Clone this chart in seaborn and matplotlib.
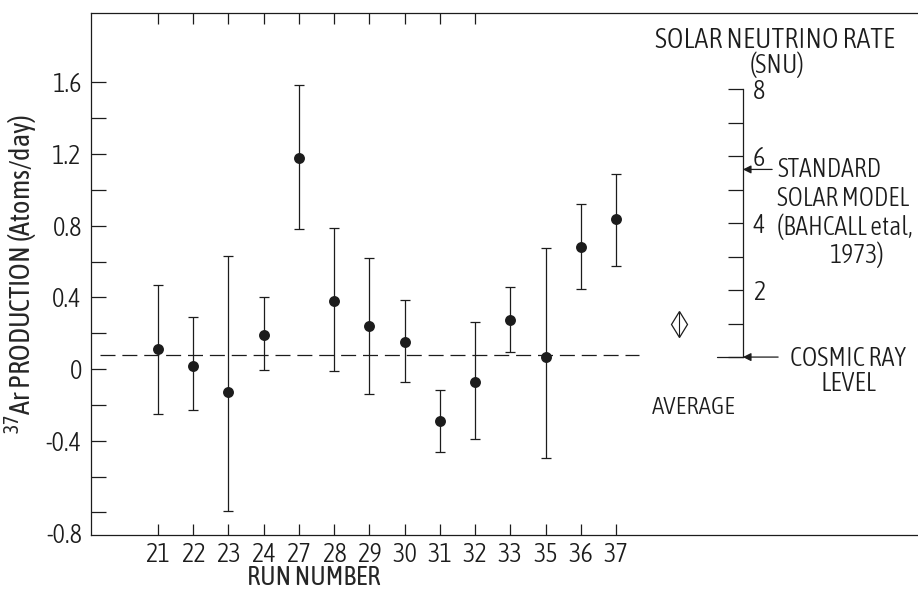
import numpy as np
import pandas as pd
import matplotlib
matplotlib.use("Agg")
import matplotlib.pyplot as plt
import matplotlib.font_manager as fm
import seaborn as sns

# ---- data ----
runs = ["21", "22", "23", "24", "27", "28", "29", "30", "31", "32", "33", "35", "36", "37"]
rate = [0.11, 0.02, -0.13, 0.19, 1.18, 0.38, 0.24, 0.15, -0.29, -0.07, 0.275, 0.07, 0.68, 0.84]
err_hi = [0.47, 0.29, 0.63, 0.405, 1.587, 0.79, 0.62, 0.387, -0.118, 0.26, 0.46, 0.676, 0.919, 1.087]
err_lo = [-0.25, -0.23, -0.79, -0.007, 0.78, -0.01, -0.14, -0.073, -0.46, -0.39, 0.097, -0.497, 0.446, 0.573]
average_rate = 0.25
dashed_level = 0.08
cosmic_ray_level = 0.067          # atoms/day corresponding to 0 SNU
atoms_per_snu = 0.187             # atoms/day per SNU
ssm_snu = 5.6                     # standard solar model (Bahcall et al. 1973)
snu_ticks = [0, 1, 2, 3, 4, 5, 6, 7, 8]
snu_labels = ["", "", "2", "", "4", "", "6", "", "8"]
y_ticks = [-0.8, -0.6, -0.4, -0.2, 0.0, 0.2, 0.4, 0.6, 0.8, 1.0, 1.2, 1.4, 1.6]
y_labels = ["", "", "-0.4", "", "0", "", "0.4", "", "0.8", "", "1.2", "", "1.6"]

INK = "#1c1c1c"


def pick_font():
    entries = fm.fontManager.ttflist
    names = {e.name for e in entries}
    for fam in ["Liberation Sans Narrow"]:
        if fam in names:
            return fam, "normal", "normal", 17.5
    cands = []
    for e in entries:
        s = str(e.stretch).lower()
        tag = (e.name + " " + e.fname).lower()
        if e.style != "normal":
            continue
        if "mono" in tag or "serif" in tag.replace("sans", ""):
            continue
        if s in ("condensed", "semi-condensed") or "condensed" in tag or "narrow" in tag:
            w = e.weight if isinstance(e.weight, int) else 400
            cands.append((abs(w - 300), e))
    if cands:
        cands.sort(key=lambda t: t[0])
        e = cands[0][1]
        st = e.stretch if isinstance(e.stretch, str) else "condensed"
        return e.name, st, e.weight, 19.0
    return "Liberation Sans", "normal", "normal", 15.0


FAMILY, STRETCH, WEIGHT, FS = pick_font()
K = FS / 19.0

sns.set_style("ticks")
plt.rcParams["font.family"] = [FAMILY, "DejaVu Sans"]
plt.rcParams["font.stretch"] = STRETCH
plt.rcParams["font.weight"] = WEIGHT
plt.rcParams["text.color"] = INK
plt.rcParams["axes.edgecolor"] = INK
plt.rcParams["xtick.color"] = INK
plt.rcParams["ytick.color"] = INK

fig = plt.figure(figsize=(9.18, 5.90), dpi=100)
ax = fig.add_axes([0.0988, 0.0932, 0.9012, 0.8847])

pos = np.arange(len(runs))
df = pd.DataFrame({"pos": pos, "rate": rate, "hi": err_hi, "lo": err_lo})

# error bars
ax.errorbar(df["pos"], df["rate"],
            yerr=[df["rate"] - df["lo"], df["hi"] - df["rate"]],
            fmt="none", ecolor=INK, elinewidth=0.9, capsize=3.3, capthick=0.9, zorder=2)
# points
sns.scatterplot(data=df, x="pos", y="rate", ax=ax, color=INK, s=62,
                edgecolor=INK, linewidth=0, zorder=3, legend=False)

# dashed reference line
ax.plot([-1.64, 13.65], [dashed_level, dashed_level], color=INK, lw=0.9,
        dashes=(12, 5.5), zorder=1)

# average diamond
ax.plot([14.8], [average_rate], marker="d", ms=13.2, mfc="none", mec=INK, mew=0.9,
        ls="none", zorder=3)
ax.plot([14.8], [average_rate], marker="|", ms=18, mec=INK, mew=0.8, ls="none", zorder=3)

# axes limits / ticks
ax.set_xlim(-1.91, 21.57)
ax.set_ylim(-0.926, 1.987)
ax.set_xticks(pos)
ax.set_xticklabels(runs)
ax.set_yticks(y_ticks)
ax.set_yticklabels(y_labels)
ax.tick_params(axis="x", direction="in", length=8, width=0.9, pad=5.0, labelsize=FS)
ax.tick_params(axis="y", direction="in", length=10.8, width=0.9, pad=6.3, labelsize=FS)
ax.spines["right"].set_visible(False)
for s in ["left", "top", "bottom"]:
    ax.spines[s].set_linewidth(0.9)

# -0.8 label sits at the bottom spine in the original
ax.annotate("-0.8", xy=(0, -0.926), xycoords=ax.get_yaxis_transform(),
            xytext=(-6.3, 0), textcoords="offset points", ha="right", va="center",
            fontsize=FS)

# top ticks (only for first ten runs)
top = ax.secondary_xaxis("top")
top.set_xticks(pos[:10])
top.set_xticklabels([])
top.tick_params(direction="in", length=8, width=0.9)
top.spines["top"].set_visible(False)

# labels
ax.set_xlabel("RUN NUMBER", fontsize=FS)
ax.xaxis.set_label_coords(0.269, -0.058)
ax.set_ylabel(r"$^{\mathregular{37}}$Ar PRODUCTION (Atoms/day)", fontsize=20.3 * K)
ax.yaxis.set_label_coords(-0.061, 0.5)

# SNU axis
snu_x = 16.6
snu_ax = ax.inset_axes([snu_x, cosmic_ray_level, 1e-3, 8 * atoms_per_snu],
                       transform=ax.transData)
snu_ax.set_ylim(0, 8)
snu_ax.patch.set_visible(False)
for s in ["left", "top", "bottom"]:
    snu_ax.spines[s].set_visible(False)
snu_ax.spines["right"].set_linewidth(0.9)
snu_ax.set_xticks([])
snu_ax.yaxis.tick_right()
snu_ax.set_yticks(snu_ticks)
snu_ax.set_yticklabels(snu_labels)
snu_ax.tick_params(axis="y", direction="in", length=10.8, width=0.9, pad=7, labelsize=FS)

ssm_level = cosmic_ray_level + ssm_snu * atoms_per_snu
arrow = dict(arrowstyle="-|>", color=INK, lw=0.9, mutation_scale=12, shrinkA=0, shrinkB=0)
ax.annotate("", xy=(snu_x, ssm_level), xytext=(17.43, ssm_level), arrowprops=arrow)
ax.annotate("", xy=(snu_x, cosmic_ray_level), xytext=(17.6, cosmic_ray_level), arrowprops=arrow)
ax.plot([15.87, snu_x], [cosmic_ray_level, cosmic_ray_level], color=INK, lw=0.9)

# annotations
ax.text(17.51, 1.836, "SOLAR NEUTRINO RATE", ha="center", va="center", fontsize=20.3 * K)
ax.text(17.57, 1.700, "(SNU)", ha="center", va="center", fontsize=FS)
ax.text(17.57, ssm_level, "STANDARD", ha="left", va="center", fontsize=18.5 * K)
ax.text(17.57, 0.954, "SOLAR MODEL", ha="left", va="center", fontsize=18.5 * K)
ax.text(17.57, 0.792, "(BAHCALL etal,", ha="left", va="center", fontsize=18.5 * K)
ax.text(19.07, 0.636, "1973)", ha="left", va="center", fontsize=18.5 * K)
ax.text(17.94, 0.061, "COSMIC RAY", ha="left", va="center", fontsize=FS)
ax.text(19.59, -0.078, "LEVEL", ha="center", va="center", fontsize=FS)
ax.text(15.21, -0.212, "AVERAGE", ha="center", va="center", fontsize=18 * K)

fig.savefig("out.png", dpi=100)
